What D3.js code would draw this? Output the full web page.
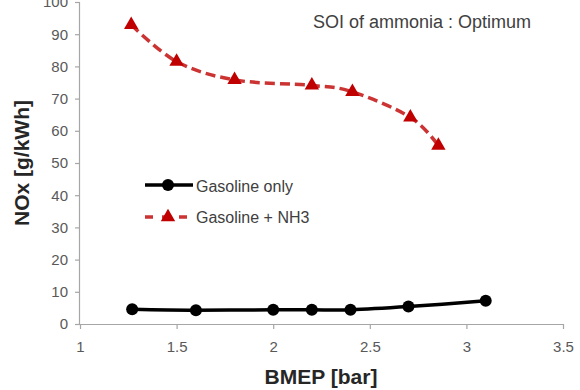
<!DOCTYPE html>
<html><head><meta charset="utf-8">
<script src="https://cdn.jsdelivr.net/npm/d3@7"></script>
<style>body{margin:0;background:#fff}svg{display:block}</style>
</head><body>
<script>
const gasX = [1.27, 1.6, 2.0, 2.2, 2.4, 2.7, 3.1];
const gasY = [4.6, 4.3, 4.4, 4.4, 4.4, 5.4, 7.2];
const nh3X = [1.265, 1.5, 1.8, 2.2, 2.41, 2.71, 2.855];
const nh3Y = [92.9, 81.5, 75.8, 74.1, 72.1, 64.2, 55.4];
const xTicks = [1, 1.5, 2, 2.5, 3, 3.5];
const yTicks = [0, 10, 20, 30, 40, 50, 60, 70, 80, 90, 100];
const seriesNames = ["Gasoline only", "Gasoline + NH3"];
const annotation = "SOI of ammonia : Optimum";
const xTitle = "BMEP [bar]";
const yTitle = "NOx [g/kWh]";

const W = 580, H = 390;
const svg = d3.select("body").append("svg").attr("width", W).attr("height", H);
const x = d3.scaleLinear().domain([1, 3.5]).range([80, 563]);
const y = d3.scaleLinear().domain([0, 100]).range([324, 2]);
const font = "'Liberation Sans', Arial, sans-serif";

const xa = svg.append("g").attr("transform", `translate(0,${y(0)})`)
  .call(d3.axisBottom(x).tickValues(xTicks).tickSize(5).tickPadding(12).tickFormat(d => d));
const ya = svg.append("g").attr("transform", `translate(${x(1)},0)`)
  .call(d3.axisLeft(y).tickValues(yTicks).tickSize(5).tickPadding(7));
[xa, ya].forEach(a => {
  a.selectAll("path,line").attr("stroke", "#a6a6a6").attr("stroke-width", 1.2);
  a.selectAll("text").attr("fill", "#595959").style("font-family", font).style("font-size", "15px");
});
xa.select(".domain").attr("d", `M${x(1)},0.5H${x(3.5)}`);
ya.select(".domain").attr("d", `M-0.5,${y(0)}V${y(100)}`);

const line = d3.line().x(d => x(d[0])).y(d => y(d[1])).curve(d3.curveCatmullRom.alpha(0));
const gas = gasX.map((v, i) => [v, gasY[i]]);
const nh3 = nh3X.map((v, i) => [v, nh3Y[i]]);

svg.append("path").attr("d", line(gas)).attr("fill", "none").attr("stroke", "#000").attr("stroke-width", 3.5);
svg.selectAll(".gp").data(gas).join("circle").attr("cx", d => x(d[0])).attr("cy", d => y(d[1])).attr("r", 6).attr("fill", "#000");

svg.append("path").attr("d", line(nh3)).attr("fill", "none").attr("stroke", "#cc3333").attr("stroke-width", 3.5).attr("stroke-dasharray", "10,5");
const tri = d3.symbol().type(d3.symbolTriangle).size(90);
svg.selectAll(".np").data(nh3).join("path").attr("d", tri).attr("transform", d => `translate(${x(d[0])},${y(d[1])})`).attr("fill", "#c00000");

// legend
const lg = svg.append("g");
lg.append("line").attr("x1", 145).attr("x2", 193).attr("y1", 185).attr("y2", 185).attr("stroke", "#000").attr("stroke-width", 3.5);
lg.append("circle").attr("cx", 168).attr("cy", 185).attr("r", 6).attr("fill", "#000");
lg.append("line").attr("x1", 145).attr("x2", 193).attr("y1", 217).attr("y2", 217).attr("stroke", "#cc3333").attr("stroke-width", 3.5).attr("stroke-dasharray", "8,9");
lg.append("path").attr("d", tri).attr("transform", "translate(168,217)").attr("fill", "#c00000");
lg.selectAll("text").data(seriesNames).join("text").attr("x", 196).attr("y", (d, i) => 192 + i * 31)
  .text(d => d).attr("fill", "#404040").style("font-family", font).style("font-size", "16px");

svg.append("text").attr("x", 313).attr("y", 28).text(annotation).attr("fill", "#404040")
  .style("font-family", font).style("font-size", "18px");

svg.append("text").attr("x", 321).attr("y", 384).attr("text-anchor", "middle").text(xTitle)
  .style("font-family", font).style("font-size", "21px").style("font-weight", "bold").attr("fill", "#262626");
svg.append("text").attr("transform", "translate(29,163) rotate(-90)").attr("text-anchor", "middle").text(yTitle)
  .style("font-family", font).style("font-size", "21px").style("font-weight", "bold").attr("fill", "#262626");
</script>
</body></html>
